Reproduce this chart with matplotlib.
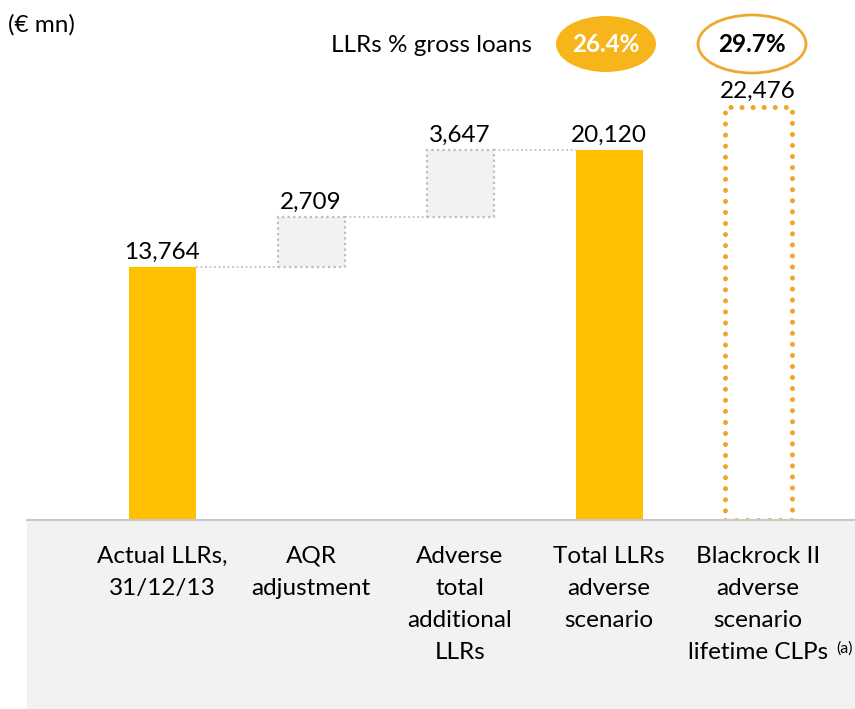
import matplotlib
matplotlib.use('Agg')
import matplotlib.pyplot as plt
from matplotlib.patches import Ellipse, Rectangle

#chart data
categories = ['Actual LLRs,\n31/12/13', 'AQR\nadjustment', 'Adverse\ntotal\nadditional\nLLRs',
              'Total LLRs\nadverse\nscenario', 'Blackrock II\nadverse\nscenario\nlifetime CLPs']
footnote = '(a)'
values = [13764, 2709, 3647, 20120, 22476]
bar_kind = ['total', 'step', 'step', 'total', 'outline']
value_labels = ['13,764', '2,709', '3,647', '20,120', '22,476']
pct_labels = ['26.4%', '29.7%']

plt.rcParams['font.family'] = ['Lato', 'DejaVu Sans']
FS = 17.5

W, H = 855, 709
fig = plt.figure(figsize=(W / 100, H / 100), dpi=100)

#gray panel under the baseline
fig.patches.append(Rectangle((27 / W, 0), 1 - 27 / W, (H - 520) / H, transform=fig.transFigure,
                             facecolor='#f2f2f2', edgecolor='none', zorder=0))
fig.lines.append(plt.Line2D([27 / W, 1], [(H - 520) / H] * 2, transform=fig.transFigure,
                            color='#c8c8c8', lw=1.5, zorder=1))

step = 149.0
first = 162.0
ax = fig.add_axes([0, (H - 520) / H, 1, 520 / H])
ax.set_xlim(-first / step, (W - first) / step)
ax.set_ylim(0, 520 * 13764 / 253)
ax.axis('off')
ax.patch.set_alpha(0)

width = 67 / step
running = 0
for i, (v, kind) in enumerate(zip(values, bar_kind)):
    if kind == 'total':
        ax.bar(i, v, width, color='#ffc000', zorder=3)
        running = v
        top = v
    elif kind == 'step':
        ax.bar(i, v, width, bottom=running, facecolor='#f2f2f2', edgecolor='#bdbdbd',
               linewidth=1.6, linestyle=(0, (1, 1.5)), zorder=3)
        running = running + v
        top = running
    else:
        b = ax.bar(i, v, width, fill=False, edgecolor='#f2a328', linewidth=3.6,
                   linestyle=(0, (0.01, 2.2)), zorder=3)
        b[0].set_capstyle('round')
        top = v
    ax.text(i, top + 250, value_labels[i], ha='center', va='bottom', fontsize=FS, color='black')

#connector lines
level = 0
for i in range(3):
    level = level + values[i] if bar_kind[i] != 'total' else values[i]
    ax.plot([i + width / 2, i + 1 - width / 2], [level, level], color='#c0c0c0',
            lw=1.3, linestyle=(0, (1, 1.5)), zorder=2)

#category labels
for i, c in enumerate(categories):
    fig.text((first + step * i) / W, 1 - 546 / H, c, ha='center', va='top', fontsize=FS,
             linespacing=1.65)
fig.text(836 / W, 1 - 649 / H, footnote, ha='left', va='center', fontsize=11.5)

fig.text(8 / W, 1 - 25 / H, '(€ mn)', ha='left', va='center', fontsize=FS)
fig.text(532 / W, 1 - 45 / H, 'LLRs % gross loans', ha='right', va='center', fontsize=FS)

#percentage ellipses
fig.patches.append(Ellipse((606 / W, 1 - 44 / H), 100 / W, 56 / H, transform=fig.transFigure,
                           facecolor='#f7b51c', edgecolor='none'))
fig.text(606 / W, 1 - 44 / H, pct_labels[0], ha='center', va='center', fontsize=FS,
         fontweight='bold', color='white')
fig.patches.append(Ellipse((752 / W, 1 - 44 / H), 108 / W, 58 / H, transform=fig.transFigure,
                           facecolor='white', edgecolor='#eea830', lw=2))
fig.text(752 / W, 1 - 44 / H, pct_labels[1], ha='center', va='center', fontsize=FS,
         fontweight='bold', color='black')

fig.savefig('out.png', dpi=100)
